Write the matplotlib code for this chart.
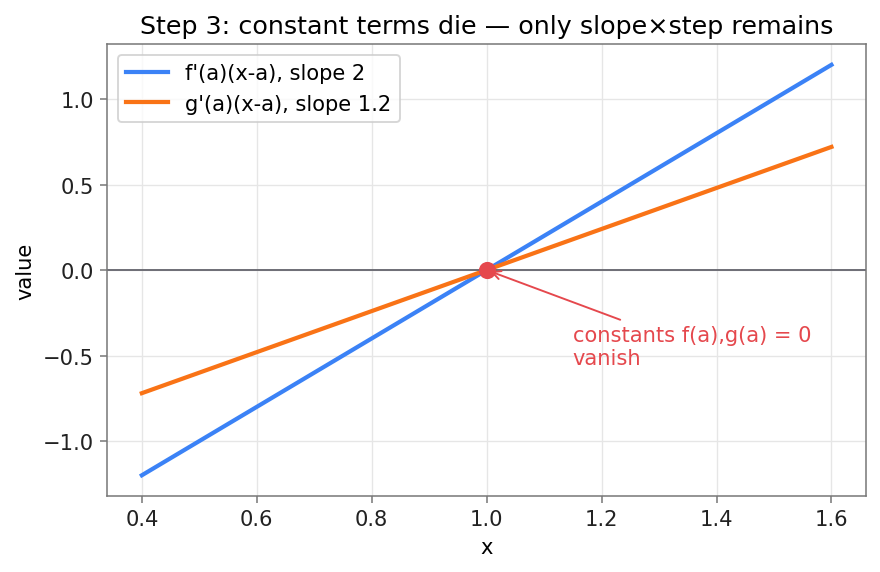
import numpy as np
import matplotlib
matplotlib.use("Agg")
import matplotlib.pyplot as plt

# data
x = [0.4, 1.6]
f_slope = 2.0
g_slope = 1.2
a = 1.0
f_vals = [f_slope * (xi - a) for xi in x]
g_vals = [g_slope * (xi - a) for xi in x]

blue = "#3b82f6"
orange = "#f97316"
red = "#e5484d"

fig, ax = plt.subplots(figsize=(6.4, 4.167), dpi=137.5)

ax.plot(x, f_vals, color=blue, lw=2.2, label="f'(a)(x-a), slope 2")
ax.plot(x, g_vals, color=orange, lw=2.2, label="g'(a)(x-a), slope 1.2")
ax.axhline(0, color="#6b6b73", lw=1.0)
ax.plot([a], [0], "o", color=red, ms=8, zorder=5)

ax.annotate("constants f(a),g(a) = 0\nvanish", xy=(a, 0), xytext=(1.15, -0.55),
            color=red, fontsize=11,
            arrowprops=dict(arrowstyle="->", color=red, lw=1.0))

ax.set_title("Step 3: constant terms die \u2014 only slope\u00d7step remains", fontsize=13.3)
ax.set_xlabel("x", fontsize=11)
ax.set_ylabel("value", fontsize=11)
ax.tick_params(labelsize=11, colors="#222222")
ax.tick_params(axis="both", color="#777777")
for s in ax.spines.values():
    s.set_color("#777777")
ax.grid(True, color="#e6e6e6", lw=0.7)
ax.set_axisbelow(True)
ax.legend(loc="upper left", fontsize=11)

plt.subplots_adjust(left=0.122, right=0.984, top=0.921, bottom=0.133)
plt.savefig("out.png", dpi=137.5)
